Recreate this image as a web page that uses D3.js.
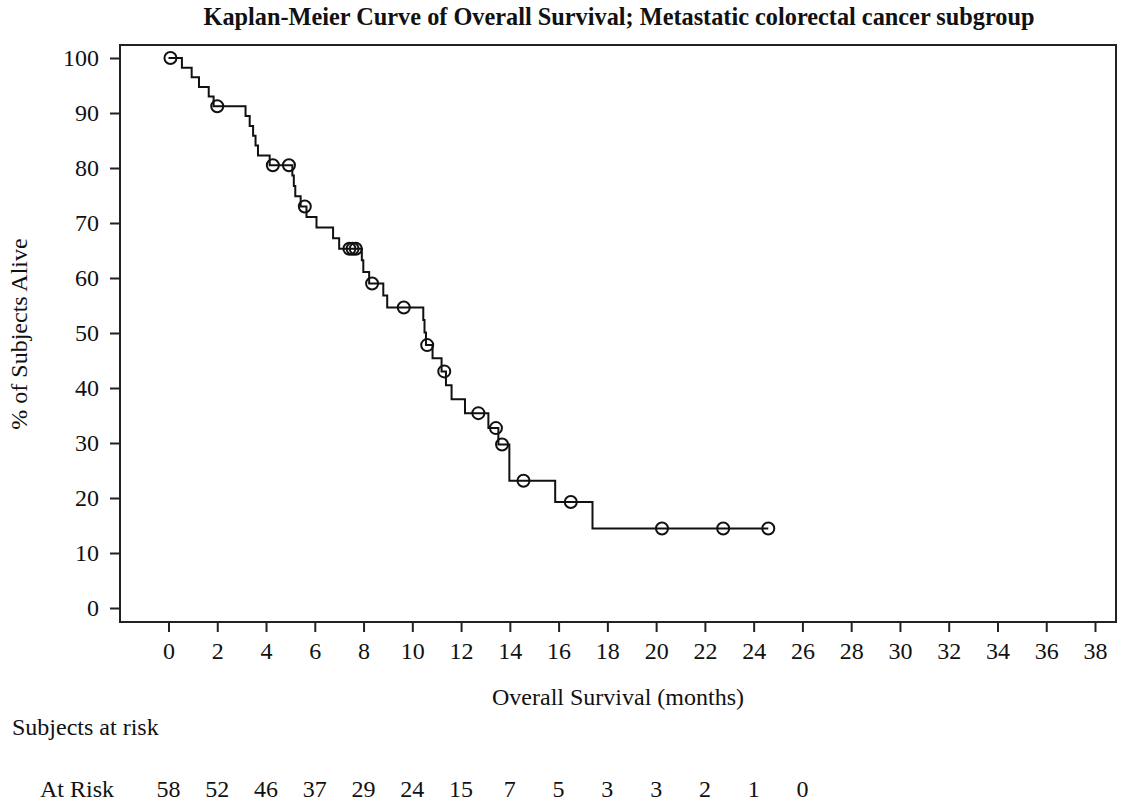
<!DOCTYPE html>
<html>
<head>
<meta charset="utf-8">
<script src="https://cdn.jsdelivr.net/npm/d3@7"></script>
<style>
  html, body { margin: 0; padding: 0; background: #fff; }
  svg { display: block; }
  text { font-family: "Liberation Serif", "DejaVu Serif", serif; fill: #111; }
</style>
</head>
<body>
<svg id="chart" width="1128" height="803"></svg>
<script>
// ---- Data ----
const eventTimes = [0.55, 0.95, 1.25, 1.65, 1.85, 3.16, 3.33, 3.47, 3.57, 3.67, 4.15,
  5.08, 5.14, 5.20, 5.42, 5.66, 6.07, 6.75, 7.00, 7.93, 7.99, 8.23, 8.81, 8.97,
  10.45, 10.50, 10.56, 10.83, 11.20, 11.38, 11.61, 12.16, 13.12, 13.53, 13.98,
  15.86, 17.39];
const eventSurvival = [98.25, 96.49, 94.74, 92.98, 91.23, 89.44, 87.65, 85.86, 84.07, 82.28, 80.49,
  78.62, 76.75, 74.88, 73.01, 71.09, 69.16, 67.24, 65.32, 63.22, 61.11, 59.00, 56.82, 54.63,
  52.35, 50.08, 47.80, 45.41, 43.02, 40.49, 37.96, 35.43, 32.71, 29.73, 23.13,
  19.27, 14.45];
const censorTimes = [0.08, 2.0, 4.28, 4.94, 5.59, 7.42, 7.55, 7.68, 8.35, 9.65, 10.61,
  11.31, 12.71, 13.43, 13.68, 14.56, 16.5, 20.24, 22.75, 24.6];
const censorSurvival = [100, 91.23, 80.49, 80.49, 73.01, 65.32, 65.32, 65.32, 59.00, 54.63, 47.80,
  43.02, 35.43, 32.71, 29.73, 23.13, 19.27, 14.45, 14.45, 14.45];
const xTicks = d3.range(0, 39, 2);
const yTicks = d3.range(0, 101, 10);
const riskTimes = [0, 2, 4, 6, 8, 10, 12, 14, 16, 18, 20, 22, 24, 26];
const riskCounts = [58, 52, 46, 37, 29, 24, 15, 7, 5, 3, 3, 2, 1, 0];
const titleText = "Kaplan-Meier Curve of Overall Survival; Metastatic colorectal cancer subgroup";
const xLabel = "Overall Survival (months)";
const yLabel = "% of Subjects Alive";

// ---- Layout ----
const svg = d3.select("#chart");
const frame = { left: 120, top: 45, right: 1116, bottom: 622 };
const x = d3.scaleLinear().domain([0, 38]).range([168.5, 1095]);
const y = d3.scaleLinear().domain([0, 100]).range([608, 58]);
const fs = "24px";

// Title
svg.append("text")
  .attr("x", 619).attr("y", 25)
  .attr("text-anchor", "middle")
  .style("font-weight", "bold")
  .style("font-size", "24.3px")
  .text(titleText);

// Frame
svg.append("rect")
  .attr("x", frame.left).attr("y", frame.top)
  .attr("width", frame.right - frame.left)
  .attr("height", frame.bottom - frame.top)
  .attr("fill", "none")
  .attr("stroke", "#222")
  .attr("stroke-width", 2);

// Y axis
const yAxis = d3.axisLeft(y).tickValues(yTicks).tickSize(10).tickPadding(11).tickFormat(d3.format("d"));
const gy = svg.append("g").attr("transform", `translate(${frame.left},0)`).call(yAxis);
gy.select(".domain").remove();
gy.selectAll(".tick line").attr("stroke", "#222").attr("stroke-width", 2);
gy.selectAll(".tick text").style("font-size", fs).style("font-family", "Liberation Serif, serif").attr("fill", "#111");

// X axis
const xAxis = d3.axisBottom(x).tickValues(xTicks).tickSize(10).tickPadding(10).tickFormat(d3.format("d"));
const gx = svg.append("g").attr("transform", `translate(0,${frame.bottom})`).call(xAxis);
gx.select(".domain").remove();
gx.selectAll(".tick line").attr("stroke", "#222").attr("stroke-width", 2);
gx.selectAll(".tick text").style("font-size", fs).style("font-family", "Liberation Serif, serif").attr("fill", "#111");

// Axis labels
svg.append("text")
  .attr("x", 618).attr("y", 705)
  .attr("text-anchor", "middle")
  .style("font-size", fs)
  .text(xLabel);

svg.append("text")
  .attr("transform", "translate(27,334) rotate(-90)")
  .attr("text-anchor", "middle")
  .style("font-size", fs)
  .text(yLabel);

// KM step curve
const pts = [[0, 100]];
eventTimes.forEach((t, i) => pts.push([t, eventSurvival[i]]));
pts.push([censorTimes[censorTimes.length - 1], censorSurvival[censorSurvival.length - 1]]);
const line = d3.line().x(d => x(d[0])).y(d => y(d[1])).curve(d3.curveStepAfter);
svg.append("path")
  .datum(pts)
  .attr("d", line)
  .attr("fill", "none")
  .attr("stroke", "#111")
  .attr("stroke-width", 2);

// Censor marks
svg.append("g").selectAll("circle")
  .data(censorTimes.map((t, i) => [t, censorSurvival[i]]))
  .join("circle")
  .attr("cx", d => x(d[0]))
  .attr("cy", d => y(d[1]))
  .attr("r", 6)
  .attr("fill", "none")
  .attr("stroke", "#111")
  .attr("stroke-width", 2);

// Subjects at risk
svg.append("text")
  .attr("x", 12).attr("y", 735)
  .style("font-size", fs)
  .text("Subjects at risk");

svg.append("text")
  .attr("x", 40).attr("y", 797)
  .style("font-size", fs)
  .text("At Risk");

svg.append("g").selectAll("text")
  .data(riskTimes.map((t, i) => [t, riskCounts[i]]))
  .join("text")
  .attr("x", d => x(d[0]))
  .attr("y", 797)
  .attr("text-anchor", "middle")
  .style("font-size", fs)
  .text(d => d[1]);
</script>
</body>
</html>
